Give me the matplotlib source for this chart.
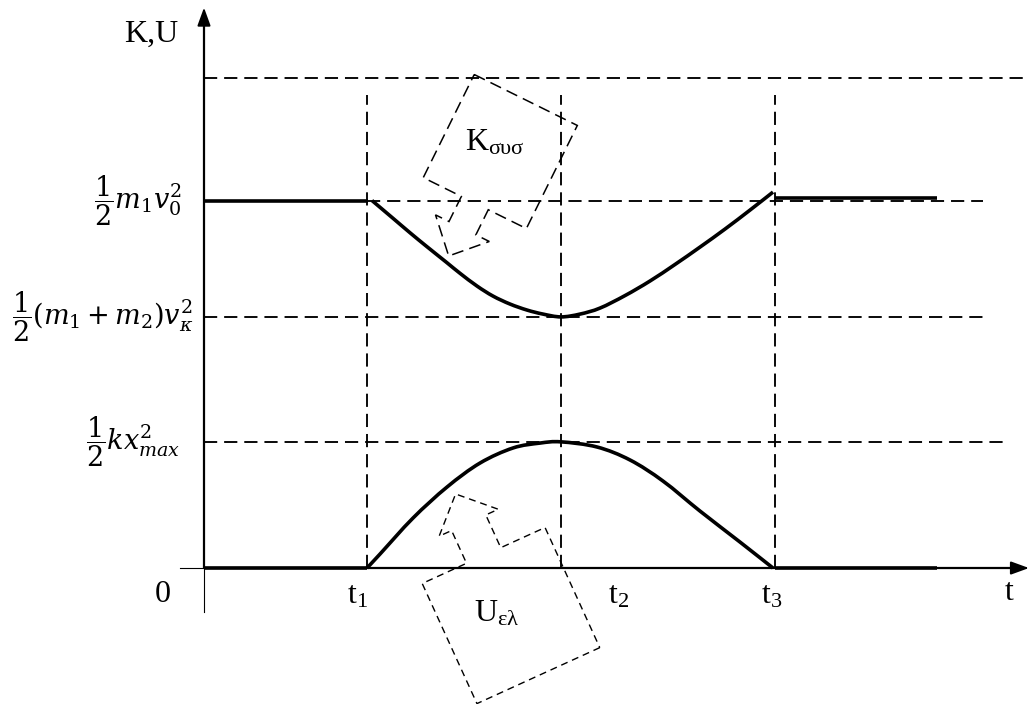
import matplotlib
matplotlib.use("Agg")
import matplotlib.pyplot as plt
from matplotlib.patches import Polygon, PathPatch
from matplotlib.path import Path
from matplotlib.transforms import Affine2D

plt.rcParams["lines.scale_dashes"] = False
plt.rcParams["font.family"] = ["Liberation Serif", "DejaVu Serif"]
plt.rcParams["mathtext.fontset"] = "custom"
plt.rcParams["mathtext.rm"] = "Liberation Serif"
plt.rcParams["mathtext.it"] = "Liberation Serif:italic"

# ---- characteristic times and energy levels ----
t_marks = [1.63, 3.57, 5.71]
t_mark_labels = [r"$\mathrm{t}_1$", r"$\mathrm{t}_2$", r"$\mathrm{t}_3$"]

E_top = 4.0
E_K0 = 3.0
E_Kmin = 2.05
E_Umax = 1.03
level_labels = [r"$\dfrac{1}{2}m_1v_0^2$",
                r"$\dfrac{1}{2}(m_1+m_2)v_\kappa^2$",
                r"$\dfrac{1}{2}kx_{max}^2$"]

# ---- kinetic energy of the system ----
K_before_t = [0.0, 1.64]
K_before_E = [3.0, 3.0]
K_t = [1.68, 1.89, 2.06, 2.23, 2.43, 2.56, 2.73, 2.89, 3.06, 3.23,
       3.39, 3.57, 3.76, 3.96, 4.21, 4.46, 4.71, 4.96, 5.21, 5.46, 5.69]
K_E = [3.0, 2.855, 2.737, 2.623, 2.492, 2.406, 2.302, 2.220, 2.155,
       2.106, 2.073, 2.05, 2.073, 2.122, 2.224, 2.343, 2.478, 2.620, 2.767,
       2.922, 3.069]
K_after_t = [5.71, 7.33]
K_after_E = [3.02, 3.02]

# ---- elastic potential energy ----
U_before_t = [0.0, 1.63]
U_before_E = [0.0, 0.0]
U_t = [1.63, 1.76, 2.09, 2.43, 2.76, 3.09, 3.36, 3.57, 3.93, 4.26, 4.59,
       4.96, 5.36, 5.69]
U_E = [0.0, 0.114, 0.408, 0.661, 0.857, 0.980, 1.020, 1.03, 0.988, 0.882,
       0.710, 0.465, 0.212, 0.0]
U_after_t = [5.71, 7.33]
U_after_E = [0.0, 0.0]

fig = plt.figure(figsize=(10.29, 7.04), dpi=100)
ax = fig.add_axes([0, 0, 1, 1])
ax.set_xlim(-2.04, 8.25)
ax.set_ylim(-1.110, 4.637)
ax.axis("off")

grid_kw = dict(color="black", lw=1.35, ls=(0, (9.5, 5.0)))

# horizontal reference levels
ax.plot([0, 8.21], [E_top, E_top], **grid_kw)
ax.plot([t_marks[0], 7.79], [E_K0, E_K0], **grid_kw)
ax.plot([0, 7.79], [E_Kmin, E_Kmin], **grid_kw)
ax.plot([0, 8.01], [E_Umax, E_Umax], **grid_kw)

# vertical time markers
for tm in t_marks:
    ax.plot([tm, tm], [0, 3.86], **grid_kw)

# axes with arrows
ax.plot([0, 0], [0, 4.45], color="black", lw=1.6, solid_capstyle="butt")
ax.plot([0, 0], [-0.36, 0], color="black", lw=0.8)
ax.plot([0, 8.1], [0, 0], color="black", lw=1.6, solid_capstyle="butt")
ax.plot([-0.24, 0], [0, 0], color="black", lw=0.8)
arrow_style = "-|>,head_length=1.1,head_width=0.4"
ax.annotate("", xy=(0, 4.575), xytext=(0, 4.40),
            arrowprops=dict(arrowstyle=arrow_style, color="black", lw=1.4,
                            shrinkA=0, shrinkB=0))
ax.annotate("", xy=(8.25, 0), xytext=(8.05, 0),
            arrowprops=dict(arrowstyle=arrow_style, color="black", lw=1.4,
                            shrinkA=0, shrinkB=0))


def smooth_path(xs, ys):
    """Cubic Bezier path passing through every given point."""
    pts = list(zip(xs, ys))
    n = len(pts)
    verts = [pts[0]]
    codes = [Path.MOVETO]
    for i in range(n - 1):
        p0 = pts[i - 1] if i > 0 else pts[i]
        p1 = pts[i]
        p2 = pts[i + 1]
        p3 = pts[i + 2] if i + 2 < n else pts[i + 1]
        c1 = (p1[0] + (p2[0] - p0[0]) / 6, p1[1] + (p2[1] - p0[1]) / 6)
        c2 = (p2[0] - (p3[0] - p1[0]) / 6, p2[1] - (p3[1] - p1[1]) / 6)
        verts += [c1, c2, p2]
        codes += [Path.CURVE4] * 3
    return Path(verts, codes)


# energy curves
curve_kw = dict(color="black", lw=2.6, solid_capstyle="butt")
ax.plot(K_before_t, K_before_E, **curve_kw)
ax.plot(K_after_t, K_after_E, **curve_kw)
ax.plot(U_before_t, U_before_E, **curve_kw)
ax.plot(U_after_t, U_after_E, **curve_kw)
for xs, ys in [(K_t, K_E), (U_t, U_E)]:
    ax.add_patch(PathPatch(smooth_path(xs, ys), fill=False,
                           edgecolor="black", lw=2.6, capstyle="butt"))

# axis titles and tick labels
fs = 23
ax.text(-0.53, 4.294, "K,U", fontsize=fs, ha="center", va="baseline")
ax.text(8.05, -0.26, "t", fontsize=fs, ha="center", va="baseline")
ax.text(-0.41, -0.278, "0", fontsize=fs, ha="center", va="baseline")
t_label_x = [1.54, 4.15, 5.68]
for x, lab in zip(t_label_x, t_mark_labels):
    ax.text(x, -0.286, lab, fontsize=fs, ha="center", va="baseline")

level_vals = [E_K0, E_Kmin, E_Umax]
level_x = [-0.22, -0.11, -0.24]
for x, y, lab in zip(level_x, level_vals, level_labels):
    ax.text(x, y, lab, fontsize=19.5, ha="right", va="center",
            math_fontfamily="dejavuserif")


def callout(cx, cy, box_w, box_h, angle, shaft_w, shaft_len, head_w,
            head_len, dashes, lw):
    """Dashed rectangular callout with a block arrow, sizes in pixels."""
    hw, hh = box_w / 2, box_h / 2
    sw, hd = shaft_w / 2, head_w / 2
    yb = -hh - shaft_len
    verts = [(-hw, hh), (hw, hh), (hw, -hh), (sw, -hh), (sw, yb), (hd, yb),
             (0, yb - head_len), (-hd, yb), (-sw, yb), (-sw, -hh), (-hw, -hh)]
    px, py = ax.transData.transform((cx, cy))
    tr = Affine2D().rotate_deg(angle).translate(px, py)
    ax.add_patch(Polygon(verts, closed=True, fill=False, edgecolor="black",
                         lw=lw, ls=(0, dashes), transform=tr))


callout(2.963, 3.400, 115, 115, -26.3, 30, 28, 60, 31, (8.5, 4.5), 1.1)
callout(3.07, -0.388, 135, 132, 204.5, 37.6, 36, 65, 31.6, (5.0, 3.5), 1.0)

ax.text(2.61, 3.412, r"$\mathrm{K}_{\mathrm{συσ}}$", fontsize=fs,
        ha="left", va="baseline")
ax.text(2.70, -0.433, r"$\mathrm{U}_{\mathrm{ελ}}$", fontsize=fs,
        ha="left", va="baseline")

fig.savefig("out.png", dpi=100)
